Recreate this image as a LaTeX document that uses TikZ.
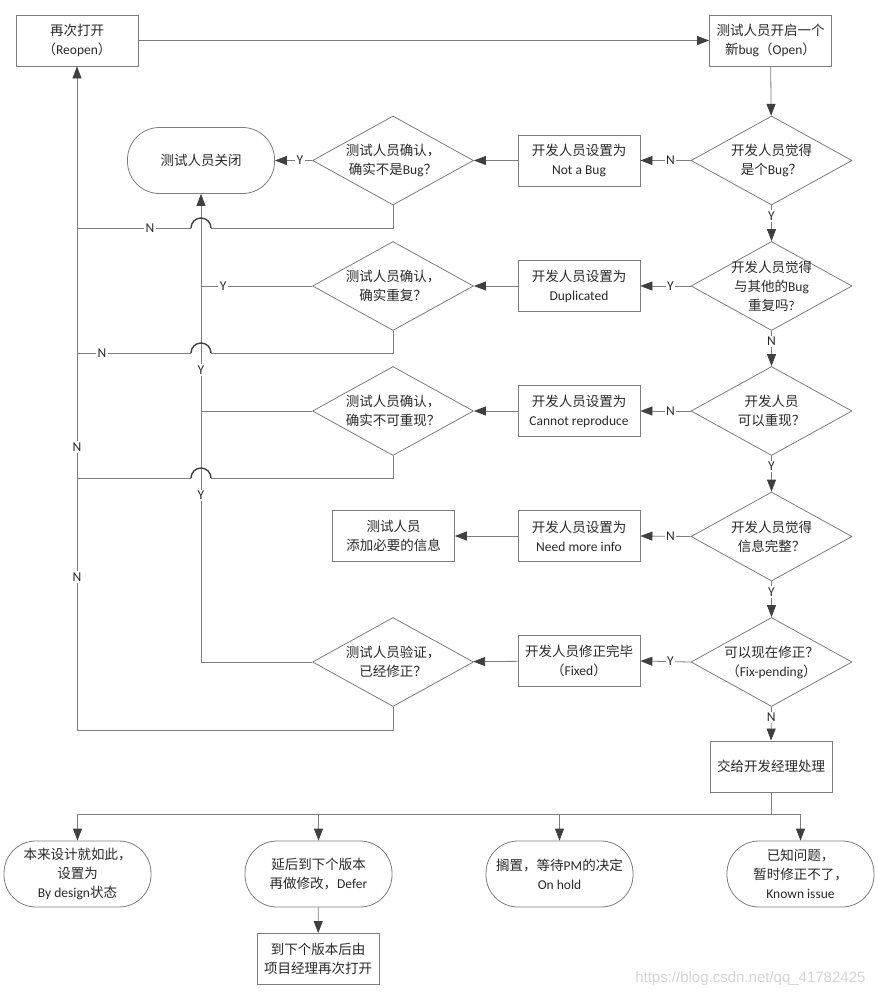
\documentclass[tikz,border=0pt]{standalone}
\usepackage{fontspec}
\setmainfont{Carlito}
\newfontfamily\latfont{Carlito}
\newfontfamily\cjkfont{Noto Sans CJK SC}
\newfontfamily\urlfont{Liberation Sans}
\usetikzlibrary{arrows.meta}
\usetikzlibrary{shapes}
\usetikzlibrary{positioning}

% Chinese characters are set in the CJK font
\XeTeXinterchartokenstate=1
\newXeTeXintercharclass\cjkclass
\newcount\cjkcode
\def\setcjkrange#1#2{\cjkcode=#1 \loop\XeTeXcharclass\cjkcode=\cjkclass
  \advance\cjkcode by 1 \ifnum\cjkcode<#2 \repeat}
\setcjkrange{"3000}{"3040}
\setcjkrange{"4E00}{"A000}
\setcjkrange{"FF00}{"FFF0}
\XeTeXinterchartoks 0 \cjkclass = {\cjkfont}
\XeTeXinterchartoks 4095 \cjkclass = {\cjkfont}
\XeTeXinterchartoks \cjkclass 0 = {\latfont}
\XeTeXinterchartoks \cjkclass 4095 = {\latfont}

\definecolor{linegray}{RGB}{125,125,125}
\definecolor{tipgray}{RGB}{64,64,64}
\definecolor{txtgray}{RGB}{40,40,40}

\begin{document}
\begin{tikzpicture}[x=1pt, y=-1pt, >={Triangle[length=12pt,width=9pt,color=tipgray]},
                    font=\fontsize{13.5}{19}\selectfont,
                    line/.style = {draw=linegray, line width=0.8pt},
                    hop/.style = {draw=tipgray, line width=1.4pt},
                    box/.style = {rectangle, draw=linegray, line width=0.8pt, text=txtgray,
                                  align=center, minimum width=122pt, minimum height=51pt},
                    term/.style = {rectangle, rounded corners=32pt, draw=linegray, line width=0.8pt,
                                   text=txtgray, align=center, inner sep=2pt,
                                   minimum width=147pt, minimum height=66pt},
                    decision/.style = {diamond, draw=linegray, line width=0.8pt, inner sep=0pt,
                                       minimum width=161pt, minimum height=89pt},
                    ask/.style = {align=center, text=txtgray, inner sep=0pt},
                    yn/.style = {fill=white, text=txtgray, inner sep=1.5pt}]
  \useasboundingbox (0,0) rectangle (878,999);

  \node [box] (reopen) at (77,40.5) {再次打开\\（Reopen）};
  \node [box] (open) at (770.5,40.5) {测试人员开启一个\\新bug（Open）};
  \node [term] (closed) at (201,160.5) {测试人员关闭};

  % developer decisions
  \node [decision, label={[ask]center:开发人员觉得\\是个Bug？}] (q1) at (771.5,160.5) {};
  \node [decision, label={[ask]center:开发人员觉得\\与其他的Bug\\重复吗?}] (q2) at (771.5,286) {};
  \node [decision, label={[ask]center:开发人员\\可以重现？}] (q3) at (771.5,411) {};
  \node [decision, label={[ask]center:开发人员觉得\\信息完整？}] (q4) at (771.5,536.5) {};
  \node [decision, label={[ask]center:可以现在修正？\\（Fix-pending）}] (q5) at (771.5,662) {};

  \node [box] (notbug) at (579,160.5) {开发人员设置为\\Not a Bug};
  \node [box] (dup) at (579,286) {开发人员设置为\\Duplicated};
  \node [box] (norepro) at (579,411) {开发人员设置为\\Cannot reproduce};
  \node [box] (moreinfo) at (579,536) {开发人员设置为\\Need more info};
  \node [box] (fixed) at (579,661) {开发人员修正完毕\\（Fixed）};

  % tester checks
  \node [decision, label={[ask]center:测试人员确认，\\确实不是Bug？}] (c1) at (393,160.5) {};
  \node [decision, label={[ask]center:测试人员确认，\\确实重复？}] (c2) at (393,286) {};
  \node [decision, label={[ask]center:测试人员确认，\\确实不可重现？}] (c3) at (393,411) {};
  \node [box] (addinfo) at (393.5,536) {测试人员\\添加必要的信息};
  \node [decision, label={[ask]center:测试人员验证，\\已经修正？}] (c4) at (393,662) {};

  \node [box] (pm) at (771,766.5) {交给开发经理处理};
  \node [term] (design) at (77.5,874) {本来设计就如此，\\设置为\\By design状态};
  \node [term] (defer) at (318.5,874) {延后到下个版本\\再做修改，Defer};
  \node [term] (hold) at (559.5,874) {搁置，等待PM的决定\\On hold};
  \node [term] (known) at (800.5,874) {已知问题，\\暂时修正不了，\\Known issue};
  \node [box] (nextver) at (318,959) {到下个版本后由\\项目经理再次打开};

  \node [text=black!17, font=\urlfont\fontsize{15}{15}\selectfont, anchor=east] (mark) at (869,979)
    {https://blog.csdn.net/qq\_41782425};

  \coordinate (hop1) at (201,228);
  \coordinate (hop2) at (201,353);
  \coordinate (hop3) at (201,478);
  \coordinate (split) at (771,814);

  % main column
  \draw [line,->] (reopen) -- (open);
  \draw [line,->] (open) -- (q1);
  \draw [line,->] (q1.south) -- node [yn,pos=0.3] {Y} (q2.north);
  \draw [line,->] (q2.south) -- node [yn,pos=0.3] {N} (q3.north);
  \draw [line,->] (q3.south) -- node [yn,pos=0.3] {Y} (q4.north);
  \draw [line,->] (q4.south) -- node [yn,pos=0.3] {Y} (q5.north);
  \draw [line,->] (q5.south) -- node [yn,pos=0.31] {N} (pm.north);

  \draw [line,->] (q1.west) -- node [yn,pos=0.4] {N} (notbug.east);
  \draw [line,->] (q2.west) -- node [yn,pos=0.4] {Y} (dup.east);
  \draw [line,->] (q3.west) -- node [yn,pos=0.4] {N} (norepro.east);
  \draw [line,->] (q4.west) -- node [yn,pos=0.4] {N} (moreinfo.east);
  \draw [line,->] (q5.west) -- node [yn,pos=0.4] {Y} (fixed.east);

  \draw [line,->] (notbug) -- (c1);
  \draw [line,->] (dup) -- (c2);
  \draw [line,->] (norepro) -- (c3);
  \draw [line,->] (moreinfo) -- (addinfo);
  \draw [line,->] (fixed) -- (c4);

  % tester says yes
  \draw [line,->] (c1.west) -- node [yn,pos=0.33] {Y} (closed.east);
  \draw [line] (c2.west) -- node [yn,pos=0.8] {Y} (c2.west -| closed.south);
  \draw [line] (c3.west) -- (c3.west -| closed.south);
  \draw [line,->] (c4.west) -| node [yn,pos=0.678] {Y} node [yn,pos=0.812] {Y} (closed.south);

  % tester says no
  \draw [line,->] (c4.south) -- ++(0,23) -| node [yn,pos=0.615] {N} node [yn,pos=0.713] {N} (reopen.south);
  \draw [line] (c1.south) |- ([xshift=10pt]hop1);
  \draw [hop] ([xshift=10pt]hop1) arc [start angle=0, end angle=180, radius=10pt];
  \draw [line] ([xshift=-10pt]hop1) -- node [yn,pos=0.36] {N} (hop1 -| reopen.south);
  \draw [line] (c2.south) |- ([xshift=10pt]hop2);
  \draw [hop] ([xshift=10pt]hop2) arc [start angle=0, end angle=180, radius=10pt];
  \draw [line] ([xshift=-10pt]hop2) -- node [yn,pos=0.78] {N} (hop2 -| reopen.south);
  \draw [line] (c3.south) |- ([xshift=10pt]hop3);
  \draw [hop] ([xshift=10pt]hop3) arc [start angle=0, end angle=180, radius=10pt];
  \draw [line] ([xshift=-10pt]hop3) -- (hop3 -| reopen.south);

  % manager
  \draw [line] (pm.south) -- (split);
  \draw [line,->] (split) -| (design.north);
  \draw [line,->] (split) -| (defer.north);
  \draw [line,->] (split) -| (hold.north);
  \draw [line,->] (split) -| (known.north);
  \draw [line,->] (defer) -- (nextver);
\end{tikzpicture}
\end{document}
